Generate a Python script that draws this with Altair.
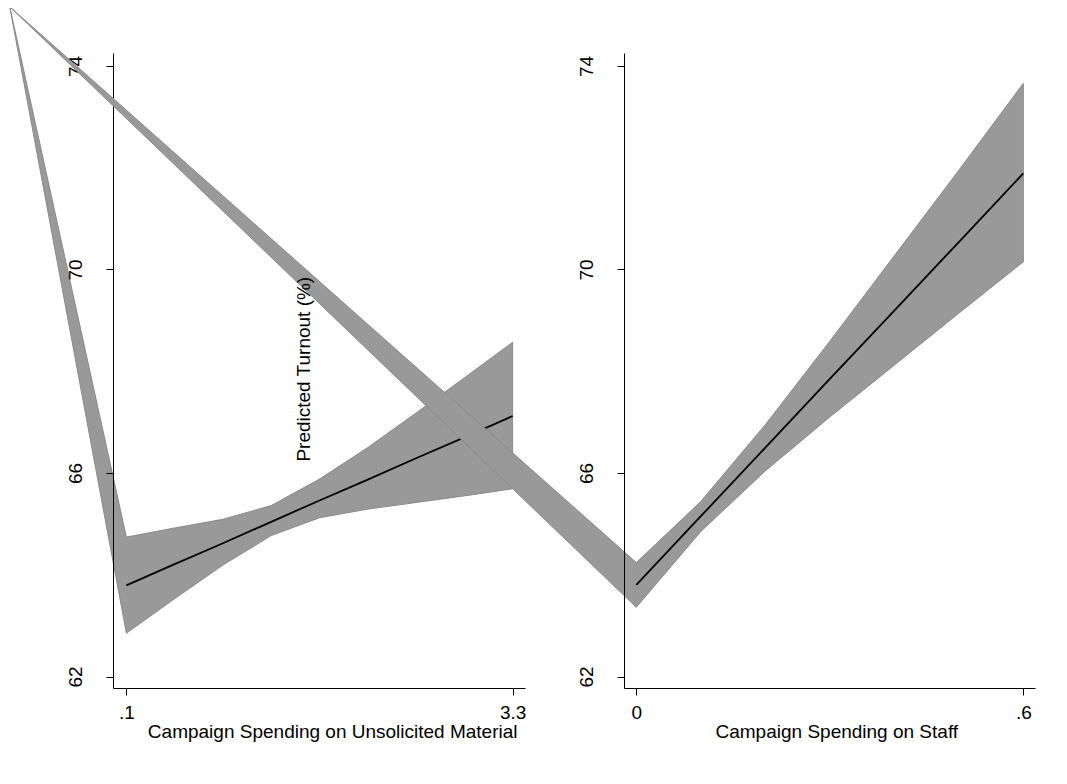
import altair as alt
import pandas as pd

# ---------------- data ----------------
left_x = [0.1, 0.5, 0.9, 1.3, 1.7, 2.1, 2.5, 2.9, 3.3]
left_upper = [64.74, 64.92, 65.09, 65.36, 65.88, 66.50, 67.18, 67.87, 68.57]
left_lower = [62.85, 63.53, 64.19, 64.77, 65.12, 65.29, 65.42, 65.55, 65.69]
left_pred = [63.79, 64.21, 64.62, 65.04, 65.46, 65.87, 66.29, 66.70, 67.12]
left_stray = [-0.866, 75.16]   # stray vertex of the band polygon

right_x = [0.0, 0.1, 0.2, 0.3, 0.4, 0.5, 0.6]
right_upper = [64.24, 65.44, 66.95, 68.59, 70.27, 71.95, 73.66]
right_lower = [63.36, 64.85, 66.04, 67.10, 68.12, 69.14, 70.15]
right_pred = [63.80, 65.15, 66.50, 67.85, 69.19, 70.54, 71.89]
right_stray = [-0.971, 75.16]

y_ticks = [62, 66, 70, 74]
left_xticks = [0.1, 3.3]
left_xlabels = [".1", "3.3"]
right_xticks = [0.0, 0.6]
right_xlabels = ["0", ".6"]

left_xtitle = "Campaign Spending on Unsolicited Material"
right_xtitle = "Campaign Spending on Staff"
y_title = "Predicted Turnout (%)"

left_xdomain = [-0.0109, 3.4026]
right_xdomain = [-0.0191, 0.6181]
y_domain = [61.774, 74.255]

FONT = "Liberation Sans"
FS = 19
BAND_FILL = "#999999"
BAND_EDGE = "#8a8a8a"

LEFT_W = 412
RIGHT_W = 411
GAP = 99


def label_expr(vals, labels):
    expr = "''"
    for v, l in reversed(list(zip(vals, labels))):
        expr = f"abs(datum.value - {v}) < 1e-9 ? '{l}' : ({expr})"
    return expr


def panel(xs, upper, lower, pred, stray, xdom, xticks, xlabels, xtitle,
          title_x, width, ytitle=None, ytitle_x=0.0):
    rows = [{"x": stray[0], "y": stray[1], "i": 0}]
    n = 1
    for xv, yv in zip(xs, upper):
        rows.append({"x": xv, "y": yv, "i": n}); n += 1
    for xv, yv in zip(reversed(xs), reversed(lower)):
        rows.append({"x": xv, "y": yv, "i": n}); n += 1
    rows.append({"x": stray[0], "y": stray[1], "i": n})
    poly = pd.DataFrame(rows)
    line = pd.DataFrame({"x": xs, "y": pred})

    xaxis = alt.Axis(
        values=xticks, labelExpr=label_expr(xticks, xlabels), title=xtitle,
        titleX=title_x, titleY=49.5, titleAlign="center",
        titleBaseline="alphabetic", tickSize=7, labelPadding=8,
        labelFlush=False, labelOverlap=False, zindex=1,
    )
    ykw = dict(
        values=y_ticks, labelAngle=270, labelAlign="center",
        labelBaseline="alphabetic", labelPadding=25, tickSize=7,
        labelFlush=False, zindex=1,
    )
    if ytitle:
        yaxis = alt.Axis(
            title=ytitle, titleX=ytitle_x, titleY=315.7, titleAngle=270,
            titleAlign="center", titleBaseline="alphabetic", **ykw
        )
    else:
        yaxis = alt.Axis(title=None, **ykw)
    xenc = alt.X("x:Q", scale=alt.Scale(domain=xdom, nice=False, zero=False),
                 axis=xaxis)
    yenc = alt.Y("y:Q", scale=alt.Scale(domain=y_domain, nice=False, zero=False),
                 axis=yaxis)

    band = alt.Chart(poly).mark_line(
        fill=BAND_FILL, stroke=BAND_EDGE, strokeWidth=1, clip=False,
        strokeJoin="bevel",
    ).encode(x=xenc, y=yenc, order="i:Q")
    fit = alt.Chart(line).mark_line(
        color="black", strokeWidth=1.8, clip=False
    ).encode(x=xenc, y=yenc)
    return alt.layer(band, fit).properties(width=width, height=635)


left = panel(left_x, left_upper, left_lower, left_pred, left_stray,
             left_xdomain, left_xticks, left_xlabels, left_xtitle, 219.2,
             LEFT_W)
# the y title is drawn last (on top of everything), as in the reference
right = panel(right_x, right_upper, right_lower, right_pred, right_stray,
              right_xdomain, right_xticks, right_xlabels, right_xtitle, 212.3,
              RIGHT_W, ytitle=y_title, ytitle_x=196.7 - (LEFT_W + GAP))

chart = alt.hconcat(left, right, spacing=GAP, bounds="flush").properties(
    padding={"left": 1, "top": -2, "right": 5, "bottom": 5}
).configure_view(strokeWidth=0).configure_axis(
    labelFont=FONT, titleFont=FONT, labelFontSize=FS, titleFontSize=FS,
    labelColor="black", titleColor="black", titleFontWeight="normal",
    domainColor="black", tickColor="black", domainWidth=1, tickWidth=1,
    grid=False,
)

chart.save("out.html", embed_options={"renderer": "svg", "actions": False})
